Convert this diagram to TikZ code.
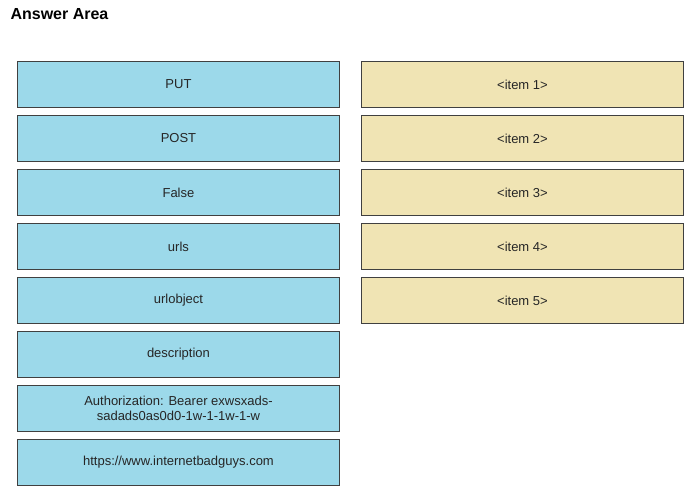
\documentclass[tikz,border=0pt]{standalone}
\usepackage{fontspec}
\setmainfont{Liberation Sans}
\begin{document}
\begin{tikzpicture}[x=1pt,y=-1pt,
  bx/.style={draw=black!75,line width=0.9pt,minimum width=322pt,minimum height=46pt,anchor=north west,inner sep=0pt,font=\fontsize{13}{15}\selectfont,align=center,text=black!85},
  blue/.style={bx,fill={rgb,255:red,156;green,217;blue,234}},
  tan/.style={bx,fill={rgb,255:red,240;green,228;blue,180}}]
\useasboundingbox (0,0) rectangle (700,495);
\node[anchor=west,font=\bfseries\fontsize{16}{18}\selectfont] (title) at (7,14) {Answer Area};
\node[blue] (b1) at (17,61) {PUT};
\node[blue] (b2) at (17,115) {POST};
\node[blue] (b3) at (17,169) {False};
\node[blue] (b4) at (17,223) {urls};
\node[blue] (b5) at (17,277) {urlobject};
\node[blue] (b6) at (17,331) {description};
\node[blue] (b7) at (17,385) {Authorization: Bearer exwsxads-\\sadads0as0d0-1w-1-1w-1-w};
\node[blue] (b8) at (17,439) {https://www.internetbadguys.com};
\node[tan] (t1) at (361,61) {<item 1>};
\node[tan] (t2) at (361,115) {<item 2>};
\node[tan] (t3) at (361,169) {<item 3>};
\node[tan] (t4) at (361,223) {<item 4>};
\node[tan] (t5) at (361,277) {<item 5>};
\end{tikzpicture}
\end{document}
